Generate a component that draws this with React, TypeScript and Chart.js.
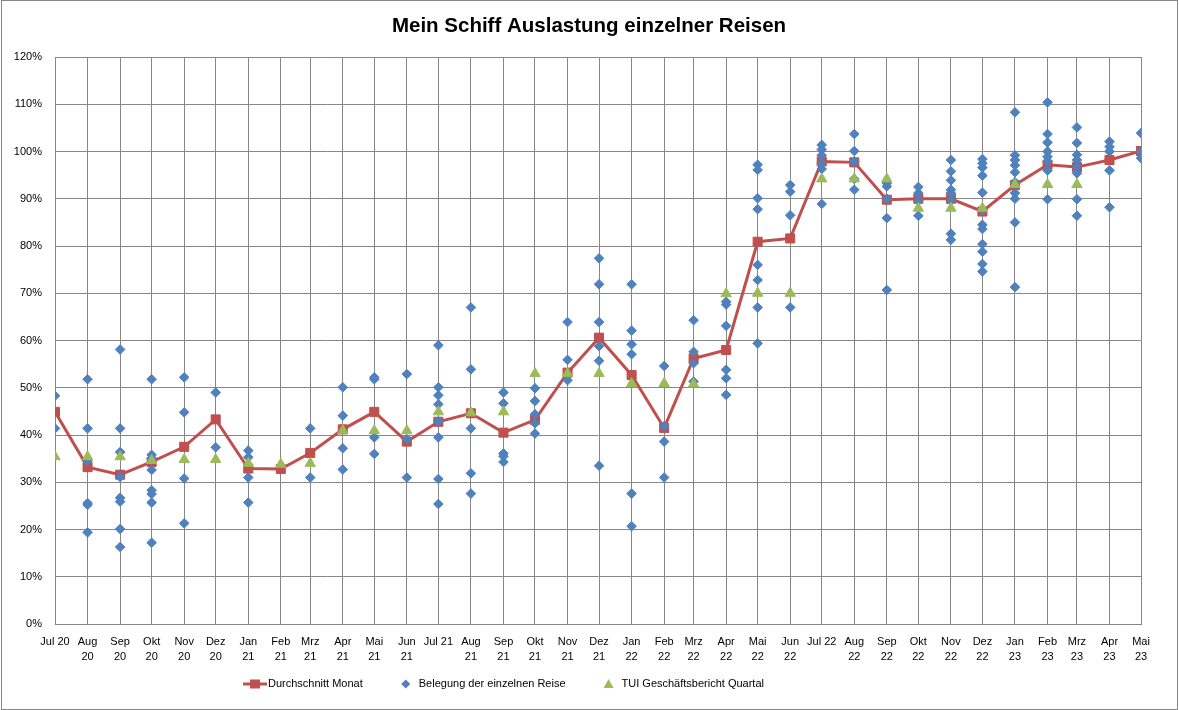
import React, { useEffect, useRef } from 'react';
import { Chart, registerables } from 'chart.js';

Chart.register(...registerables);

const chartTitle = 'Mein Schiff Auslastung einzelner Reisen';

const months: string[] = [
  'Jul 20', 'Aug 20', 'Sep 20', 'Okt 20', 'Nov 20', 'Dez 20',
  'Jan 21', 'Feb 21', 'Mrz 21', 'Apr 21', 'Mai 21', 'Jun 21',
  'Jul 21', 'Aug 21', 'Sep 21', 'Okt 21', 'Nov 21', 'Dez 21',
  'Jan 22', 'Feb 22', 'Mrz 22', 'Apr 22', 'Mai 22', 'Jun 22',
  'Jul 22', 'Aug 22', 'Sep 22', 'Okt 22', 'Nov 22', 'Dez 22',
  'Jan 23', 'Feb 23', 'Mrz 23', 'Apr 23', 'Mai 23',
];

// Durchschnitt Monat (%)
const avgValues: number[] = [
  44.9, 33.2, 31.6, 34.3, 37.5, 43.3,
  32.9, 32.8, 36.2, 41.2, 44.9, 38.6,
  42.8, 44.6, 40.5, 43.2, 53.2, 60.6,
  52.7, 41.5, 56.2, 58.0, 80.9, 81.6,
  97.9, 97.7, 89.8, 90.0, 90.0, 87.3,
  92.9, 97.2, 96.7, 98.2, 100.1,
];

// TUI Geschäftsbericht Quartal (%)
const tuiValues: (number | null)[] = [
  35.4, 35.4, 35.4, 34.6, 34.8, 34.8,
  34.0, 33.8, 34.0, 40.9, 40.9, 40.9,
  44.9, 44.7, 44.9, 53.0, 53.0, 53.0,
  50.9, 50.9, 50.8, 69.9, 70.0, 70.0,
  94.2, 94.2, 94.2, 88.0, 88.0, 88.0,
  93.0, 93.0, 93.0, null, null,
];

// Belegung der einzelnen Reise (%), per month
const voyageValues: number[][] = [
  [48.3, 41.4],
  [51.8, 41.4, 34.5, 25.6, 25.2, 19.4],
  [58.1, 41.4, 36.4, 31.1, 26.7, 25.9, 20.1, 16.3],
  [51.8, 35.8, 35.0, 32.6, 28.3, 27.5, 25.7, 17.2],
  [52.2, 44.8, 30.8, 21.3],
  [49.0, 37.4],
  [36.7, 35.3, 31.0, 25.7],
  [],
  [41.4, 31.0],
  [50.1, 44.1, 37.2, 32.7],
  [52.2, 51.8, 39.5, 36.0],
  [52.9, 39.1, 31.0],
  [59.0, 50.1, 48.4, 46.5, 42.9, 39.5, 30.7, 25.4],
  [67.0, 53.9, 41.4, 31.9, 27.6],
  [49.0, 46.7, 36.1, 35.5, 34.3],
  [49.9, 47.2, 44.4, 42.5, 40.3],
  [63.9, 55.9, 51.6],
  [77.4, 71.9, 63.9, 58.8, 55.7, 33.5],
  [71.9, 62.1, 59.2, 57.1, 27.6, 20.7],
  [54.6, 41.9, 38.6, 31.0],
  [64.3, 57.6, 55.2, 51.3],
  [68.2, 67.6, 63.1, 53.8, 52.0, 48.5],
  [97.2, 96.1, 90.1, 87.8, 76.0, 72.8, 67.0, 59.4],
  [92.9, 91.5, 86.5, 67.0],
  [101.4, 100.4, 99.2, 97.5, 96.3, 88.9],
  [103.7, 100.1, 97.9, 94.2, 91.9],
  [93.3, 92.6, 90.0, 85.9, 70.7],
  [92.5, 91.2, 89.6, 86.4],
  [98.2, 95.8, 93.9, 91.9, 91.2, 89.7, 82.6, 81.3],
  [98.4, 97.5, 96.6, 94.9, 91.3, 87.6, 84.5, 83.6, 80.4, 78.8, 76.2, 74.6],
  [108.3, 99.2, 98.2, 97.1, 95.6, 93.5, 91.2, 90.0, 85.0, 71.3],
  [110.4, 103.7, 101.9, 100.0, 98.9, 97.9, 96.0, 89.9],
  [105.1, 101.8, 99.3, 98.2, 96.8, 95.4, 89.9, 86.4],
  [102.1, 101.0, 100.0, 96.0, 88.2],
  [103.9, 100.0, 98.6],
];

const yTicks: number[] = [0, 10, 20, 30, 40, 50, 60, 70, 80, 90, 100, 110, 120];

const RED = '#C0504D';
const BLUE = '#4F81BD';
const GREEN = '#9BBB59';
const GRID = '#878787';
const FONT = '"Liberation Sans", Arial, sans-serif';

// x position of each month = days since 1 Jul 2020 (Excel date axis)
const DAY = 86400000;
const base = Date.UTC(2020, 6, 1);
const monthDays: number[] = months.map((_, i) => (Date.UTC(2020, 6 + i, 1) - base) / DAY);
const tickLabels: (string | string[])[] = months.map((m) => (m.startsWith('Jul') ? m : m.split(' ')));

const excelFrame = {
  id: 'excelFrame',
  afterDraw(chart: any) {
    const ctx = chart.ctx as CanvasRenderingContext2D;
    ctx.save();
    ctx.strokeStyle = GRID;
    ctx.lineWidth = 1;
    ctx.strokeRect(1.5, 0.5, chart.width - 3, chart.height - 1);

    // title
    ctx.fillStyle = '#000';
    ctx.font = `bold 20.5px ${FONT}`;
    ctx.textAlign = 'center';
    ctx.textBaseline = 'middle';
    ctx.fillText(chartTitle, 589, 26);

    // legend
    ctx.font = `11px ${FONT}`;
    ctx.textBaseline = 'middle';
    ctx.textAlign = 'left';
    const ds = chart.data.datasets;
    const box = 24;
    const textGap = 1;
    const itemGap = 31;
    const widths = ds.map((d: any) => box + textGap + ctx.measureText(d.label).width);
    const total = widths.reduce((a: number, b: number) => a + b, 0) + itemGap * (ds.length - 1);
    let x = 503.5 - total / 2;
    const y = 684;
    ds.forEach((d: any, i: number) => {
      const cx = x + box / 2;
      ctx.fillStyle = d.backgroundColor;
      ctx.strokeStyle = d.borderColor;
      if (d.pointStyle === 'rect') {
        ctx.lineWidth = 3;
        ctx.beginPath();
        ctx.moveTo(x, y);
        ctx.lineTo(x + box, y);
        ctx.stroke();
        ctx.fillRect(cx - 5, y - 4.5, 10, 9);
      } else if (d.pointStyle === 'rectRot') {
        ctx.beginPath();
        ctx.moveTo(cx, y - 4.5);
        ctx.lineTo(cx + 4.5, y);
        ctx.lineTo(cx, y + 4.5);
        ctx.lineTo(cx - 4.5, y);
        ctx.closePath();
        ctx.fill();
      } else {
        ctx.beginPath();
        ctx.moveTo(cx, y - 5);
        ctx.lineTo(cx + 5, y + 4);
        ctx.lineTo(cx - 5, y + 4);
        ctx.closePath();
        ctx.fill();
      }
      ctx.fillStyle = '#000';
      ctx.fillText(d.label, x + box + textGap, y);
      x += widths[i] + itemGap;
    });
    ctx.restore();
  },
};

export default function App() {
  const ref = useRef<HTMLCanvasElement | null>(null);

  useEffect(() => {
    if (!ref.current) return;
    const lineData = months.map((_, i) => ({ x: monthDays[i], y: avgValues[i] }));
    const voyageData: { x: number; y: number }[] = [];
    voyageValues.forEach((vals, i) => vals.forEach((v) => voyageData.push({ x: monthDays[i], y: v })));
    const tuiData: { x: number; y: number }[] = [];
    tuiValues.forEach((v, i) => {
      if (v !== null) tuiData.push({ x: monthDays[i], y: v });
    });

    const chart = new Chart(ref.current, {
      type: 'scatter',
      data: {
        datasets: [
          {
            type: 'line',
            label: 'Durchschnitt Monat',
            data: lineData,
            borderColor: RED,
            backgroundColor: RED,
            borderWidth: 3,
            pointStyle: 'rect',
            pointRadius: 6.4,
            pointBorderWidth: 1,
            pointBackgroundColor: RED,
            pointBorderColor: RED,
            tension: 0,
            order: 3,
          } as any,
          {
            label: 'Belegung der einzelnen Reise',
            data: voyageData,
            pointStyle: 'rectRot',
            pointRadius: 4.8,
            borderWidth: 1,
            backgroundColor: BLUE,
            borderColor: BLUE,
            showLine: false,
            order: 2,
          } as any,
          {
            label: 'TUI Geschäftsbericht Quartal',
            data: tuiData,
            pointStyle: 'triangle',
            pointRadius: 6,
            borderWidth: 1,
            backgroundColor: GREEN,
            borderColor: GREEN,
            showLine: false,
            order: 1,
          } as any,
        ],
      },
      options: {
        animation: false,
        responsive: true,
        maintainAspectRatio: false,
        events: [],
        layout: { padding: { left: 0, right: 38, top: 57, bottom: 0 } },
        plugins: {
          legend: { display: false },
          tooltip: { enabled: false },
          title: { display: false },
        },
        scales: {
          x: {
            type: 'linear',
            min: monthDays[0],
            max: monthDays[monthDays.length - 1],
            bounds: 'data',
            afterBuildTicks: (scale: any) => {
              scale.ticks = monthDays.map((v) => ({ value: v }));
            },
            afterFit: (scale: any) => {
              scale.height = 86;
            },
            grid: { color: GRID, lineWidth: 1, drawTicks: false },
            border: { color: GRID, width: 1 },
            ticks: {
              autoSkip: false,
              maxRotation: 0,
              minRotation: 0,
              padding: 10,
              color: '#000',
              font: { family: FONT, size: 11, lineHeight: 1.41 },
              callback: (_v: any, i: number) => tickLabels[i],
            },
          },
          y: {
            type: 'linear',
            min: 0,
            max: 120,
            afterBuildTicks: (scale: any) => {
              scale.ticks = yTicks.map((v) => ({ value: v }));
            },
            afterFit: (scale: any) => {
              scale.width = 55;
            },
            grid: { color: GRID, lineWidth: 1, drawTicks: false },
            border: { color: GRID, width: 1 },
            ticks: {
              padding: 13,
              color: '#000',
              font: { family: FONT, size: 11 },
              callback: (v: any) => `${v}%`,
            },
          },
        },
      } as any,
      plugins: [excelFrame],
    });
    return () => chart.destroy();
  }, []);

  return (
    <div style={{ position: 'absolute', left: 0, top: 0, width: 1179, height: 710, background: '#fff' }}>
      <canvas ref={ref} />
    </div>
  );
}
